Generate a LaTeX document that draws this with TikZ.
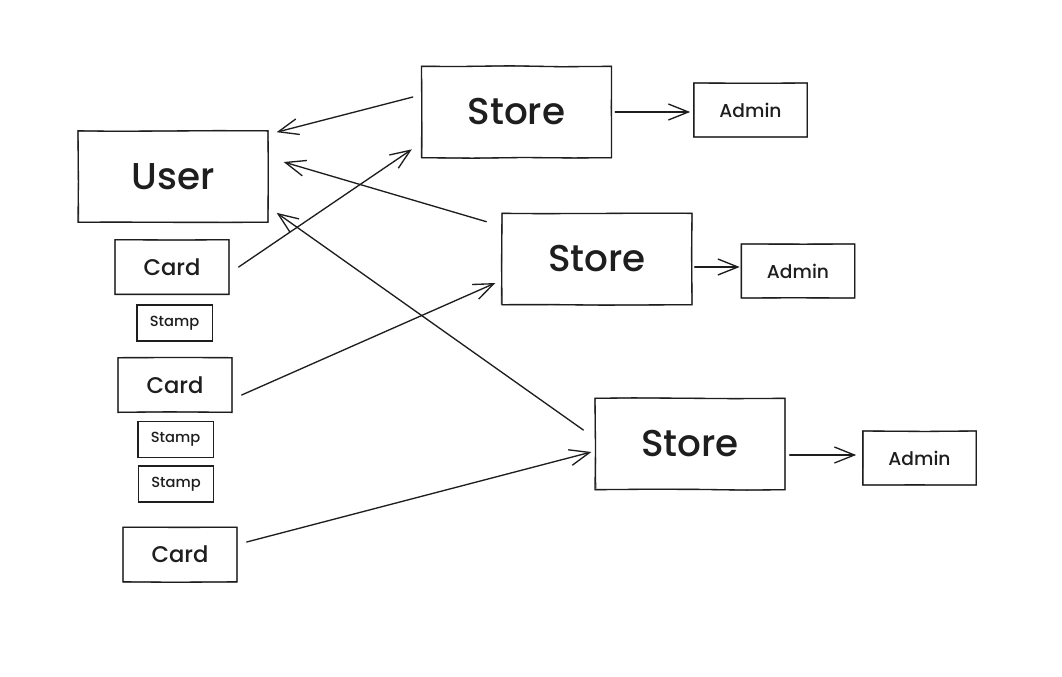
\documentclass[tikz,border=0pt]{standalone}
\usepackage{fontspec}
\setmainfont{Poppins}[BoldFont={* Medium}]
\usetikzlibrary{arrows.meta,calc,decorations.pathmorphing}
\definecolor{ink}{HTML}{1E1E1E}
\pgfmathsetseed{11}
\tikzset{
  rough/.style={decorate, decoration={random steps, segment length=38pt, amplitude=0.45pt}},
  box/.style={draw=ink, line width=1pt, rough, inner sep=0pt, text=ink,
    postaction={draw=ink, line width=0.6pt, decorate,
      decoration={random steps, segment length=52pt, amplitude=0.75pt}}},
  bigbox/.style={box, minimum width=142.5pt, minimum height=68.5pt,
    font=\fontsize{28}{30}\selectfont\bfseries},
  adminbox/.style={box, minimum width=85pt, minimum height=40.5pt,
    font=\fontsize{14}{16}\selectfont\bfseries},
  cardbox/.style={box, minimum width=85.5pt, minimum height=41pt,
    font=\fontsize{17}{19}\selectfont\bfseries},
  stampbox/.style={box, minimum width=56.5pt, minimum height=27pt,
    font=\fontsize{11}{13}\selectfont\bfseries},
  conn/.style={draw=ink, line width=1pt, line cap=round,
    -{Straight Barb[length=15pt, width=12pt, line width=1pt]}},
}
\begin{document}
\begin{tikzpicture}[x=0.75pt, y=-0.75pt]
  \fill[white] (0,0) rectangle (1062,676);
  \useasboundingbox (0,0) rectangle (1062,676);

  % user with cards and stamps
  \node[bigbox] (user) at (173,176.5) {User};
  \node[cardbox] (c1) at (172,267) {Card};
  \node[stampbox] (st1) at (174.5,323) {Stamp};
  \node[cardbox] (c2) at (175,385) {Card};
  \node[stampbox] (st2) at (175.5,439.5) {Stamp};
  \node[stampbox] (st3) at (176,484) {Stamp};
  \node[cardbox] (c3) at (180,554.5) {Card};

  % stores and their admins
  \node[bigbox] (s1) at (516.5,112) {Store};
  \node[adminbox] (a1) at (750.5,110) {Admin};
  \node[bigbox] (s2) at (597,259) {Store};
  \node[adminbox] (a2) at (798,271) {Admin};
  \node[bigbox] (s3) at (690,444) {Store};
  \node[adminbox] (a3) at (919.5,458) {Admin};

  % stores point back to the user
  \draw[conn] ($(s1.west)+(-8,-15)$) -- ($(user.north east)+(8,2)$);
  \draw[conn] ($(s2.north west)+(-15,9)$) -- ($(user.east)+(15,-14.5)$);
  \draw[conn] ($(s3.west)+(-11,-14)$) -- ($(user.south east)+(8,-10)$);

  % cards point to stores
  \draw[conn] ($(c1.east)+(9,0)$) -- ($(s1.south west)+(-9,-9)$);
  \draw[conn] ($(c2.east)+(9,10)$) -- ($(s2.west)+(-6,24)$);
  \draw[conn] ($(c3.east)+(9,-12.5)$) -- ($(s3.west)+(-3,8)$);

  % stores point to admins
  \draw[conn] ($(s1.east)+(3,0)$) -- ($(a1.west)+(-3,2)$);
  \draw[conn] ($(s2.east)+(2,8)$) -- ($(a2.west)+(-1,-4)$);
  \draw[conn] ($(s3.east)+(4,11)$) -- ($(a3.west)+(-6,-3)$);
\end{tikzpicture}
\end{document}
